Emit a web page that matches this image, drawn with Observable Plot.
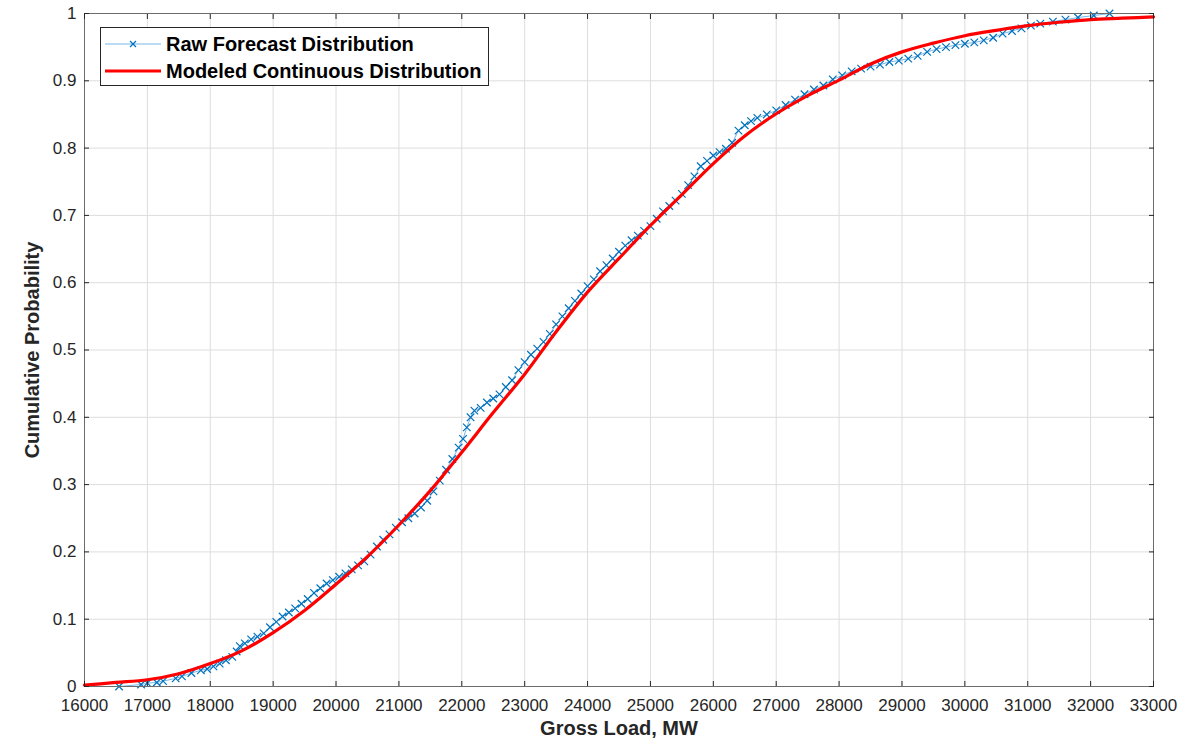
<!DOCTYPE html>
<html><head><meta charset="utf-8">
<script src="https://cdn.jsdelivr.net/npm/d3@7"></script>
<script src="https://cdn.jsdelivr.net/npm/@observablehq/plot@0.6"></script>
<style>
body{margin:0;background:#fff;}
#wrap{position:relative;width:1181px;height:741px;font-family:"Liberation Sans",Arial,sans-serif;color:#262626;}
#wrap svg [aria-label$="axis label"] text{font-weight:bold;font-size:20px;}
.legend{position:absolute;left:100px;top:27px;width:387px;height:57px;border:1px solid #262626;background:#fff;font-weight:bold;font-size:20px;color:#000;}
.legend .row{position:absolute;left:4px;height:22px;display:flex;align-items:center;}
.legend svg{display:block;}
.legend span{margin-left:5px;white-space:nowrap;}
</style></head>
<body><div id="wrap"></div>
<script>
// ticks
const xTicks = [16000,17000,18000,19000,20000,21000,22000,23000,24000,25000,26000,27000,28000,29000,30000,31000,32000,33000];
const yTicks = [0,0.1,0.2,0.3,0.4,0.5,0.6,0.7,0.8,0.9,1];

// raw forecast distribution
const rawLoad = [16550,16900,17000,17150,17250,17450,17550,17700,17850,17950,18050,18150,18250,18350,18420,18470,18550,18650,18750,18850,18950,19050,19150,19250,19350,19450,19550,19650,19750,19850,19950,20050,20150,20250,20350,20450,20550,20650,20750,20850,20950,21050,21150,21250,21350,21450,21550,21650,21750,21850,21950,22020,22080,22140,22200,22300,22400,22500,22600,22700,22800,22900,23000,23100,23200,23300,23400,23500,23600,23700,23800,23900,24000,24100,24200,24300,24400,24500,24600,24700,24800,24900,25000,25100,25200,25300,25400,25500,25600,25700,25800,25900,26000,26100,26200,26300,26400,26500,26600,26700,26850,27000,27150,27300,27450,27600,27750,27900,28050,28200,28350,28500,28650,28800,28950,29100,29250,29400,29550,29700,29850,30000,30150,30300,30450,30600,30750,30900,31050,31200,31400,31600,31800,32050,32300];
const rawProb = [0.000,0.003,0.005,0.006,0.008,0.012,0.015,0.020,0.024,0.026,0.030,0.034,0.039,0.044,0.052,0.060,0.064,0.070,0.074,0.079,0.088,0.096,0.104,0.110,0.116,0.123,0.130,0.139,0.146,0.153,0.158,0.163,0.168,0.174,0.180,0.186,0.196,0.208,0.218,0.226,0.236,0.244,0.250,0.257,0.266,0.276,0.290,0.306,0.322,0.338,0.355,0.368,0.385,0.400,0.410,0.414,0.422,0.428,0.434,0.445,0.455,0.470,0.482,0.493,0.502,0.512,0.524,0.538,0.550,0.562,0.573,0.584,0.595,0.605,0.617,0.626,0.636,0.646,0.655,0.663,0.670,0.677,0.684,0.695,0.706,0.714,0.722,0.732,0.745,0.758,0.773,0.781,0.789,0.794,0.799,0.808,0.826,0.834,0.840,0.845,0.850,0.856,0.864,0.872,0.880,0.887,0.893,0.902,0.908,0.914,0.918,0.921,0.924,0.928,0.930,0.933,0.937,0.943,0.947,0.950,0.953,0.955,0.957,0.960,0.964,0.970,0.974,0.978,0.982,0.985,0.988,0.991,0.994,0.997,1.000];
const rawTailLoad = 33000, rawTailProb = 1.000;

// modeled continuous distribution
const modelLoad = [16000,16500,17000,17500,18000,18500,19000,19500,20000,20500,21000,21500,22000,22500,23000,23500,24000,24500,25000,25500,26000,26500,27000,27500,28000,28500,29000,29500,30000,30500,31000,31500,32000,32500,33000];
const modelProb = [0.002,0.006,0.010,0.019,0.034,0.053,0.080,0.113,0.152,0.193,0.240,0.291,0.348,0.407,0.464,0.527,0.586,0.636,0.685,0.731,0.777,0.818,0.851,0.878,0.901,0.925,0.943,0.956,0.967,0.975,0.982,0.987,0.991,0.993,0.995];

const raw = rawLoad.map((x,i)=>({x, y: rawProb[i]}));
const rawLine = raw.concat([{x: rawTailLoad, y: rawTailProb}]);
const model = modelLoad.map((x,i)=>({x, y: modelProb[i]}));

const axisCol = "#262626";
const fmt = d => String(d);

const chart = Plot.plot({
  width: 1181, height: 741,
  marginLeft: 84, marginRight: 28, marginTop: 13, marginBottom: 55,
  style: {fontFamily: '"Liberation Sans", Arial, sans-serif', fontSize: "17px", color: axisCol, background: "#fff"},
  x: {domain: [16000, 33000], ticks: xTicks},
  y: {domain: [0, 1], ticks: yTicks},
  marks: [
    Plot.gridX(xTicks, {stroke: "#dddddd", strokeOpacity: 1}),
    Plot.gridY(yTicks, {stroke: "#dddddd", strokeOpacity: 1}),
    Plot.line(rawLine, {x: "x", y: "y", stroke: "#78b6ea", strokeWidth: 1}),
    Plot.dot(raw, {x: "x", y: "y", symbol: "times", r: 3.5, stroke: "#0072BD", strokeWidth: 1.2}),
    Plot.line(model, {x: "x", y: "y", stroke: "#ff0000", strokeWidth: 3.2, curve: "monotone-x"}),
    Plot.frame({stroke: "#6b6b6b", strokeWidth: 1}),
    Plot.axisX(xTicks, {anchor: "bottom", tickSize: -5, tickPadding: 17, tickFormat: fmt, fontSize: 17, color: axisCol,
      label: "Gross Load, MW", labelAnchor: "center", labelArrow: "none", labelOffset: 48}),
    Plot.axisX(xTicks, {anchor: "top", tickSize: -5, tickFormat: () => "", label: null, color: axisCol}),
    Plot.axisY(yTicks, {anchor: "left", tickSize: -5, tickPadding: 13, tickFormat: fmt, fontSize: 17, color: axisCol,
      label: "Cumulative Probability", labelAnchor: "center", labelArrow: "none", labelOffset: 60}),
    Plot.axisY(yTicks, {anchor: "right", tickSize: -5, tickFormat: () => "", label: null, color: axisCol})
  ]
});
const wrap = document.getElementById("wrap");
wrap.appendChild(chart);

// legend
const leg = document.createElement("div");
leg.className = "legend";
leg.innerHTML = `
<div class="row" style="top:5px">
  <svg width="56" height="20"><line x1="0" y1="10" x2="56" y2="10" stroke="#78b6ea" stroke-width="1.2"/>
  <path d="M25,7L31,13M31,7L25,13" stroke="#0072BD" stroke-width="1.2"/></svg>
  <span>Raw Forecast Distribution</span></div>
<div class="row" style="top:32px">
  <svg width="56" height="20"><line x1="0" y1="10" x2="56" y2="10" stroke="#ff0000" stroke-width="3.2"/></svg>
  <span>Modeled Continuous Distribution</span></div>`;
wrap.appendChild(leg);
</script>
</body></html>
